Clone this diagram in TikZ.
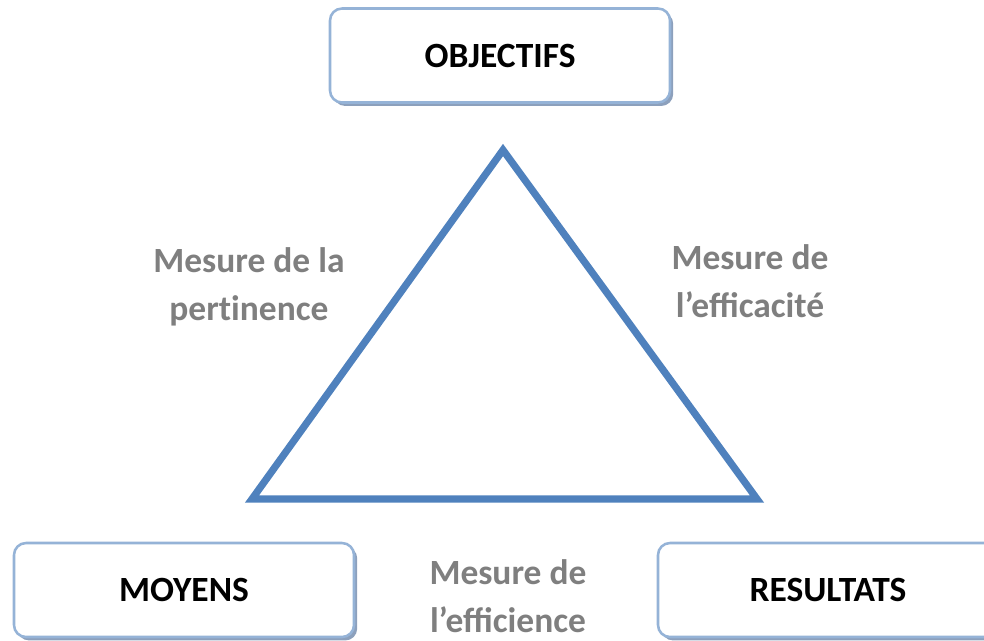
\documentclass[tikz,border=0pt]{standalone}
\usepackage{fontspec}
\setmainfont{Carlito}
\usetikzlibrary{shadows}
\definecolor{boxborder}{RGB}{149,179,215}
\definecolor{shadowc}{RGB}{140,160,188}
\definecolor{triblue}{RGB}{79,129,189}
\definecolor{labgray}{RGB}{127,127,127}
\tikzset{
  box/.style={draw=boxborder, line width=1.9pt, fill=white, rounded corners=9pt,
    minimum width=255pt, minimum height=70.5pt, inner sep=0pt,
    font=\fontsize{26.6pt}{32pt}\selectfont\bfseries,
    general shadow={fill=shadowc, shadow xshift=2.4pt, shadow yshift=-2.6pt}},
  lab/.style={text=labgray, align=center, inner sep=0pt,
    font=\fontsize{26.6pt}{36pt}\selectfont\bfseries},
  tri/.style={draw=triblue, line width=5.4pt, line join=miter}
}
\begin{document}
\begin{tikzpicture}[x=0.75pt,y=-0.75pt]
\useasboundingbox (0,0) rectangle (984,640);
\clip (0,0) rectangle (984,640);
\node[box] (obj) at (500,55.5) {OBJECTIFS};
\node[box] (moy) at (184,590) {MOYENS};
\node[box] (res) at (828,590) {RESULTATS};
\coordinate (top) at (503,150);
\coordinate (bl) at (252,499);
\coordinate (br) at (757,499);
\draw[tri] (top) -- (bl) -- (br) -- cycle;
\node[lab] (pert) at (249,287) {Mesure de la\\pert\kern0pt inence};
\node[lab] (effic) at (750,281) {Mesure de\\l’efficacité};
\node[lab] (effi) at (508,596) {Mesure de\\l’efficience};
\end{tikzpicture}
\end{document}
